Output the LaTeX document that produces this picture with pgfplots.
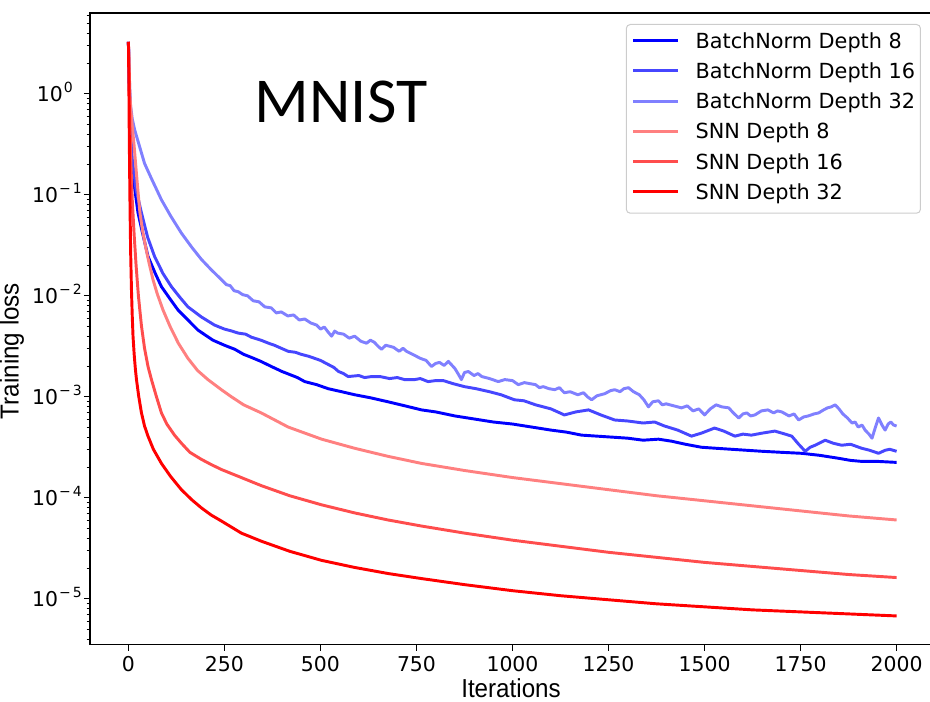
\documentclass[border=0pt]{standalone}
\usepackage{pgfplots}
\pgfplotsset{compat=1.18}
\usepackage{fontspec}
\setmainfont{DejaVu Sans}
\newfontfamily\labelfont[FakeStretch=0.93]{Liberation Sans}
\newfontfamily\titlefont{Carlito}
\definecolor{bnA}{RGB}{0,0,255}
\definecolor{bnB}{RGB}{70,70,255}
\definecolor{bnC}{RGB}{128,128,255}
\definecolor{snA}{RGB}{255,128,128}
\definecolor{snB}{RGB}{255,77,77}
\definecolor{snC}{RGB}{255,0,0}
\definecolor{legframe}{RGB}{204,204,204}
\newcommand{\tenpow}[1]{10\kern0.8pt\raisebox{0.42em}{\fontsize{10.5}{12}\selectfont #1}}
\begin{document}
\begin{tikzpicture}
\clip (-67.5pt,-42.3pt) rectangle (630pt,483.45pt);
\begin{axis}[
  scale only axis, width=633.75pt, height=473.7pt,
  xmin=-100, xmax=2100, ymode=log, ymin=3.516e-6, ymax=6.30,
  xtick={0,250,500,750,1000,1250,1500,1750,2000},
  ytick={1e-5,1e-4,1e-3,1e-2,1e-1,1},
  yticklabels={,,,,,},
  minor ytick={4e-6,5e-6,6e-6,7e-6,8e-6,9e-6,2e-5,3e-5,4e-5,5e-5,6e-5,7e-5,8e-5,9e-5,2e-4,3e-4,4e-4,5e-4,6e-4,7e-4,8e-4,9e-4,2e-3,3e-3,4e-3,5e-3,6e-3,7e-3,8e-3,9e-3,2e-2,3e-2,4e-2,5e-2,6e-2,7e-2,8e-2,9e-2,0.2,0.3,0.4,0.5,0.6,0.7,0.8,0.9,2,3,4,5,6},
  tick pos=left, tick align=outside,
  major tick length=4.5pt, minor tick length=2.6pt,
  every tick/.style={black, line width=0.75pt},
  minor tick style={line width=0.6pt},
  axis line style={line width=1pt},
  /pgf/number format/assume math mode=true,
  /pgf/number format/1000 sep={},
  xticklabel style={font=\fontsize{15.3}{18}\selectfont, anchor=north, inner sep=0pt, yshift=-4pt},
  legend cell align=left,
  legend style={at={(0.9834,0.9826)}, anchor=north east, draw=legframe, line width=0.75pt, rounded corners=3pt, fill=white,
    inner xsep=4pt, inner ysep=6.5pt, row sep=7.35pt, column sep=12pt,
    font=\fontsize{15.6}{18}\selectfont,
    nodes={inner sep=0pt, text height=11.3pt, text depth=4pt, anchor=base west}},
  legend image code/.code={\draw[#1, line width=2.2pt] (0pt,5.6pt) -- (33.75pt,5.6pt);},
  every axis plot/.append style={line width=2.2pt, line join=round},
]
\addplot[bnA] coordinates {(0,3.27)(1,1.9)(2,1.3)(3,1.0)(5,0.501)(8,0.2399)(15,0.1259)(25,0.0661)(35,0.04467)(51,0.02455)(70,0.0166)(86,0.0123)(110,9.12e-3)(129,7.244e-3)(155,5.754e-3)(181,4.571e-3)(220,3.631e-3)(250,3.236e-3)(277,2.951e-3)(300,2.63e-3)(320,2.455e-3)(345,2.239e-3)(372,1.995e-3)(400,1.778e-3)(420,1.66e-3)(440,1.549e-3)(459,1.413e-3)(490,1.318e-3)(520,1.202e-3)(555,1.122e-3)(589,1.047e-3)(630,9.772e-4)(676,8.913e-4)(720,8.128e-4)(763,7.413e-4)(800,7.079e-4)(850,6.457e-4)(900,6.026e-4)(950,5.623e-4)(1000,5.37e-4)(1050,5.012e-4)(1100,4.677e-4)(1140,4.467e-4)(1180,4.169e-4)(1220,4.074e-4)(1260,3.981e-4)(1300,3.89e-4)(1340,3.715e-4)(1380,3.802e-4)(1414,3.631e-4)(1450,3.388e-4)(1492,3.162e-4)(1530,3.09e-4)(1570,3.02e-4)(1610,2.951e-4)(1650,2.884e-4)(1700,2.818e-4)(1753,2.754e-4)(1800,2.63e-4)(1850,2.455e-4)(1880,2.344e-4)(1909,2.291e-4)(1950,2.291e-4)(2000,2.239e-4)};
\addlegendentry{BatchNorm Depth 8}
\addplot[bnB] coordinates {(0,3.27)(1,1.9)(2,1.3)(3,1.0)(6,0.3981)(10,0.2239)(20,0.1122)(34,0.0661)(50,0.03802)(68,0.02455)(90,0.0166)(112,0.0123)(135,9.55e-3)(155,7.762e-3)(190,6.166e-3)(224,5.129e-3)(250,4.677e-3)(270,4.467e-3)(286,4.266e-3)(305,4.169e-3)(320,3.89e-3)(345,3.631e-3)(365,3.388e-3)(380,3.236e-3)(398,3.02e-3)(416,2.818e-3)(435,2.754e-3)(450,2.63e-3)(470,2.512e-3)(485,2.399e-3)(500,2.291e-3)(520,2.089e-3)(535,1.95e-3)(547,1.778e-3)(560,1.698e-3)(572,1.585e-3)(600,1.622e-3)(615,1.549e-3)(633,1.585e-3)(655,1.585e-3)(680,1.514e-3)(700,1.549e-3)(719,1.479e-3)(745,1.479e-3)(760,1.514e-3)(780,1.413e-3)(800,1.445e-3)(820,1.445e-3)(845,1.349e-3)(875,1.259e-3)(905,1.202e-3)(940,1.122e-3)(970,1.047e-3)(1005,9.333e-4)(1030,9.12e-4)(1060,8.318e-4)(1100,7.586e-4)(1135,6.607e-4)(1165,7.079e-4)(1198,7.413e-4)(1230,6.607e-4)(1266,5.888e-4)(1300,5.754e-4)(1340,5.495e-4)(1370,5.623e-4)(1396,5.129e-4)(1430,4.677e-4)(1466,4.074e-4)(1492,4.365e-4)(1526,4.898e-4)(1550,4.571e-4)(1579,4.074e-4)(1600,4.266e-4)(1622,4.169e-4)(1650,4.365e-4)(1683,4.571e-4)(1710,4.266e-4)(1727,4.074e-4)(1745,3.388e-4)(1762,2.884e-4)(1775,3.162e-4)(1788,3.311e-4)(1814,3.715e-4)(1835,3.467e-4)(1857,3.311e-4)(1880,3.388e-4)(1909,3.09e-4)(1930,2.951e-4)(1953,2.754e-4)(1970,2.951e-4)(1982,3.02e-4)(2000,2.884e-4)};
\addlegendentry{BatchNorm Depth 16}
\addplot[bnC] coordinates {(0,3.27)(1,2.2)(2,1.585)(5,0.7943)(10,0.5623)(16.5,0.4365)(25,0.3388)(42,0.2042)(60,0.1445)(86,0.08913)(110,0.06166)(138,0.04169)(165,0.0302)(190,0.02291)(215,0.0182)(242,0.01445)(255,0.01288)(265,0.01259)(275,0.01122)(286,0.01096)(298,0.01023)(310,0.01)(325,8.913e-3)(340,8.71e-3)(355,7.762e-3)(372,7.586e-3)(385,6.761e-3)(398,6.918e-3)(415,6.31e-3)(430,6.457e-3)(445,5.754e-3)(459,5.888e-3)(475,5.37e-3)(490,5.129e-3)(500,4.677e-3)(510,4.898e-3)(520,4.365e-3)(529,3.981e-3)(537,4.467e-3)(545,4.266e-3)(560,4.169e-3)(575,3.802e-3)(589,3.981e-3)(605,3.548e-3)(620,3.388e-3)(630,3.631e-3)(640,3.467e-3)(650,3.162e-3)(659,2.951e-3)(670,3.236e-3)(690,3.09e-3)(705,2.818e-3)(715,3.02e-3)(724,2.818e-3)(740,2.63e-3)(750,2.512e-3)(760,2.399e-3)(775,2.291e-3)(789,1.995e-3)(800,2.138e-3)(810,2.188e-3)(822,2.042e-3)(833,2.239e-3)(850,1.905e-3)(858,1.698e-3)(867,1.479e-3)(875,1.738e-3)(885,1.778e-3)(900,1.622e-3)(910,1.698e-3)(920,1.585e-3)(940,1.514e-3)(963,1.413e-3)(980,1.479e-3)(1000,1.445e-3)(1015,1.318e-3)(1031,1.38e-3)(1045,1.349e-3)(1060,1.318e-3)(1070,1.23e-3)(1080,1.259e-3)(1095,1.202e-3)(1110,1.175e-3)(1122,1.23e-3)(1135,1.096e-3)(1150,1.122e-3)(1170,1.047e-3)(1185,1.096e-3)(1195,1.0e-3)(1206,9.333e-4)(1220,1.023e-3)(1240,1.072e-3)(1255,1.148e-3)(1266,1.175e-3)(1280,1.122e-3)(1290,1.202e-3)(1302,1.23e-3)(1315,1.122e-3)(1330,1.047e-3)(1342,9.333e-4)(1354,7.943e-4)(1365,8.913e-4)(1380,9.12e-4)(1390,8.318e-4)(1400,8.511e-4)(1420,8.128e-4)(1440,7.762e-4)(1455,8.128e-4)(1470,7.244e-4)(1485,7.586e-4)(1500,6.607e-4)(1515,7.586e-4)(1530,8.318e-4)(1545,7.943e-4)(1563,7.762e-4)(1575,6.918e-4)(1589,6.166e-4)(1600,6.761e-4)(1610,6.918e-4)(1620,6.457e-4)(1631,6.607e-4)(1648,7.244e-4)(1665,7.413e-4)(1680,6.918e-4)(1690,7.244e-4)(1701,7.079e-4)(1720,6.457e-4)(1733,6.761e-4)(1745,5.888e-4)(1758,6.31e-4)(1770,6.457e-4)(1785,6.761e-4)(1797,6.918e-4)(1810,7.413e-4)(1820,7.762e-4)(1830,7.943e-4)(1840,8.318e-4)(1850,7.586e-4)(1860,6.761e-4)(1872,6.166e-4)(1884,5.495e-4)(1892,5.623e-4)(1900,5.012e-4)(1910,5.248e-4)(1918,4.677e-4)(1928,4.266e-4)(1936,3.89e-4)(1945,5.012e-4)(1953,6.166e-4)(1962,5.248e-4)(1970,4.677e-4)(1978,5.37e-4)(1985,5.623e-4)(1992,5.248e-4)(2000,5.129e-4)};
\addlegendentry{BatchNorm Depth 32}
\addplot[snA] coordinates {(0,3.27)(2,1.778)(4,0.955)(7,0.6457)(10,0.4786)(15,0.302)(20,0.1778)(25,0.1072)(30,0.0661)(37,0.04365)(45,0.0302)(54,0.02089)(64,0.01445)(75,0.01047)(90,7.244e-3)(108,5.012e-3)(130,3.388e-3)(155,2.399e-3)(180,1.82e-3)(207,1.479e-3)(242,1.175e-3)(268,1.0e-3)(300,8.318e-4)(346,6.918e-4)(416,5.012e-4)(503,3.802e-4)(589,3.09e-4)(676,2.57e-4)(763,2.188e-4)(875,1.862e-4)(1000,1.585e-4)(1125,1.38e-4)(1250,1.202e-4)(1375,1.047e-4)(1500,9.333e-5)(1625,8.318e-5)(1750,7.413e-5)(1875,6.607e-5)(2000,6.026e-5)};
\addlegendentry{SNN Depth 8}
\addplot[snB] coordinates {(0,3.27)(2,1.585)(4,0.5012)(7,0.1778)(10,0.08913)(15,0.03981)(20,0.01995)(26,0.01)(34,5.012e-3)(42,3.02e-3)(51,1.995e-3)(60,1.479e-3)(73,1.0e-3)(86,6.918e-4)(100,5.37e-4)(120,4.169e-4)(138,3.467e-4)(160,2.818e-4)(190,2.399e-4)(215,2.138e-4)(242,1.905e-4)(294,1.585e-4)(346,1.318e-4)(420,1.047e-4)(503,8.511e-5)(589,7.079e-5)(676,6.026e-5)(763,5.248e-5)(875,4.467e-5)(1000,3.802e-5)(1125,3.311e-5)(1250,2.884e-5)(1375,2.57e-5)(1500,2.291e-5)(1625,2.089e-5)(1750,1.905e-5)(1875,1.738e-5)(2000,1.622e-5)};
\addlegendentry{SNN Depth 16}
\addplot[snC] coordinates {(0,3.27)(1,1.585)(2,0.5012)(3,0.1995)(4,0.08913)(5,0.04467)(6,0.02512)(8,0.01122)(10,6.31e-3)(12,3.981e-3)(15,2.63e-3)(18,1.905e-3)(21,1.479e-3)(27,1.0e-3)(34,6.918e-4)(42,5.129e-4)(51,4.074e-4)(65,3.02e-4)(86,2.188e-4)(110,1.622e-4)(138,1.202e-4)(165,9.55e-5)(190,7.943e-5)(215,6.761e-5)(242,5.888e-5)(294,4.467e-5)(346,3.715e-5)(420,2.951e-5)(503,2.399e-5)(589,2.042e-5)(676,1.778e-5)(763,1.585e-5)(875,1.38e-5)(1000,1.202e-5)(1125,1.072e-5)(1250,9.772e-6)(1375,8.913e-6)(1500,8.318e-6)(1625,7.762e-6)(1750,7.413e-6)(1875,7.079e-6)(2000,6.761e-6)};
\addlegendentry{SNN Depth 32}
\end{axis}
\begin{scope}[every node/.style={anchor=base east, inner sep=0pt, font=\fontsize{15.3}{18}\selectfont}]
\node at (-12.75pt,407.67pt) {\tenpow{0}};
\node at (-6pt,331.92pt) {\tenpow{−\kern1.5pt1}};
\node at (-6pt,256.16pt) {\tenpow{−\kern1.5pt2}};
\node at (-6pt,180.41pt) {\tenpow{−\kern1.5pt3}};
\node at (-6pt,104.65pt) {\tenpow{−\kern1.5pt4}};
\node at (-6pt,28.89pt) {\tenpow{−\kern1.5pt5}};
\end{scope}
\node[rotate=90, font=\labelfont\fontsize{19.5}{22}\selectfont] at (-58.5pt,220.2pt) {Training loss};
\node[anchor=base, font=\labelfont\fontsize{19.5}{22}\selectfont] at (315.75pt,-39.6pt) {Iterations};
\node[font=\titlefont\fontsize{48}{50}\selectfont] at (188.25pt,407.3pt) {MNIST};
\end{tikzpicture}
\end{document}
